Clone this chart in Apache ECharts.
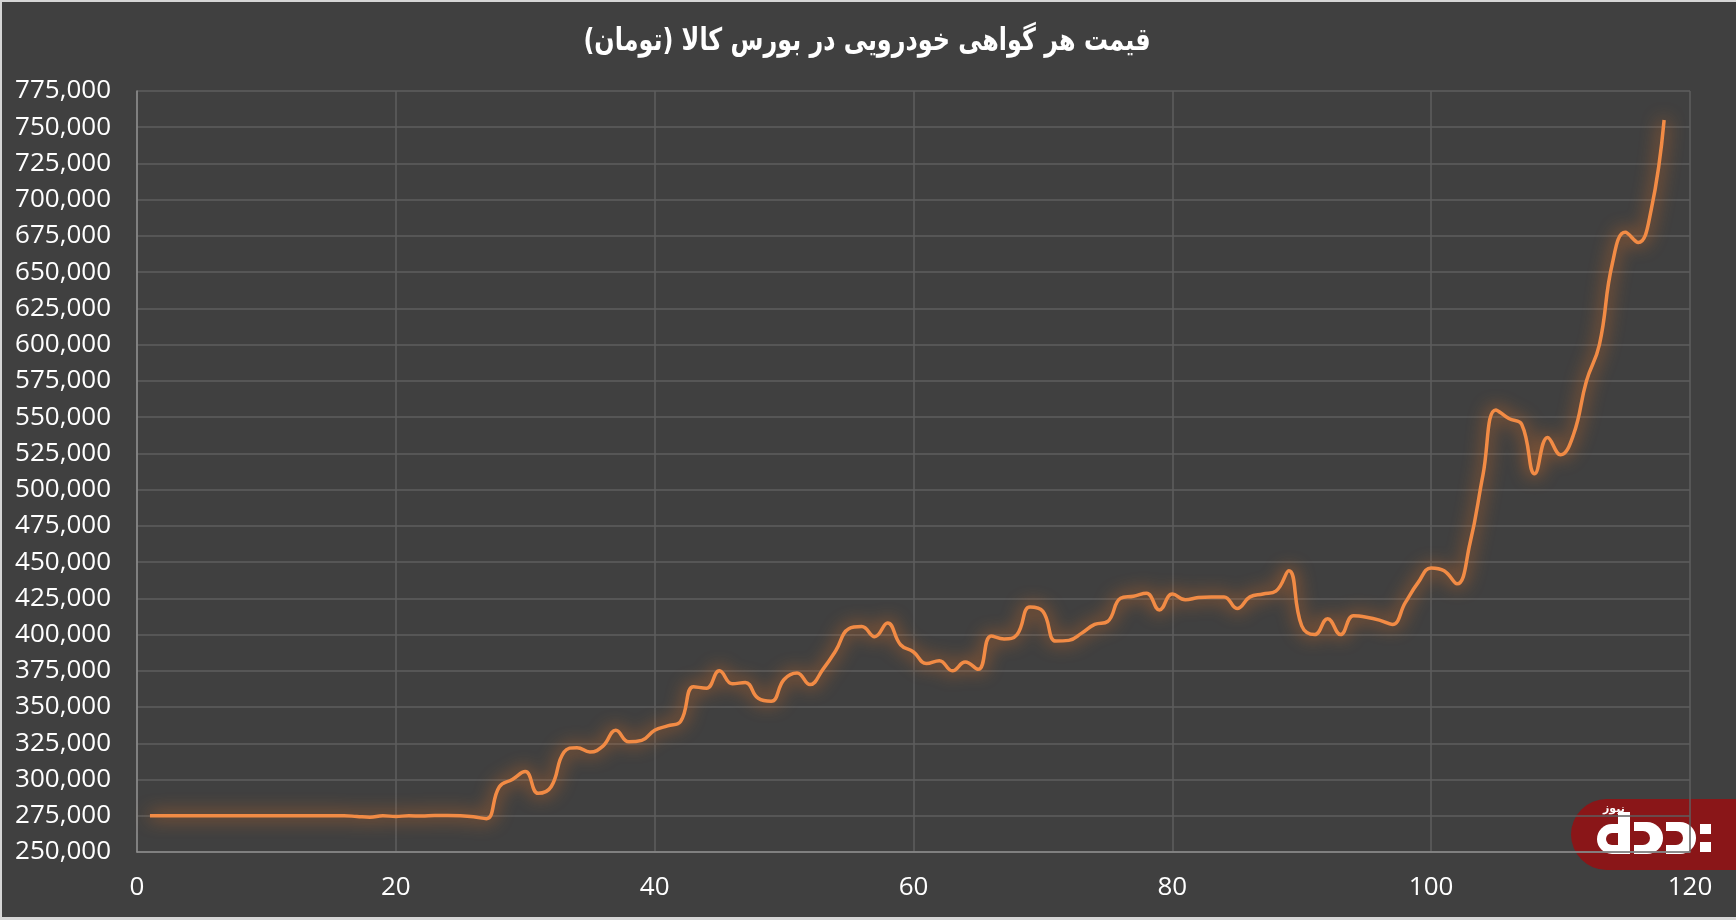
<!DOCTYPE html>
<html>
<head>
<meta charset="utf-8">
<script src="https://cdn.jsdelivr.net/npm/echarts@6/dist/echarts.min.js"></script>
<style>
  html, body { margin: 0; padding: 0; background: #d6d6d6; width: 1736px; height: 920px; overflow: hidden; }
  #chart { position: absolute; left: 2px; top: 2px; width: 1734px; height: 915px; background: #404040; }
</style>
</head>
<body>
<div id="chart"></div>
<script>
const titleText = 'قیمت هر گواهی خودرویی در بورس کالا (تومان)';
const logoText = 'نیوز';

const days = [
  1,2,3,4,5,6,7,8,9,10,11,12,13,14,15,16,17,18,19,20,
  21,22,23,24,25,26,27,28,29,30,31,32,33,34,35,36,37,38,39,40,
  41,42,43,44,45,46,47,48,49,50,51,52,53,54,55,56,57,58,59,60,
  61,62,63,64,65,66,67,68,69,70,71,72,73,74,75,76,77,78,79,80,
  81,82,83,84,85,86,87,88,89,90,91,92,93,94,95,96,97,98,99,100,
  101,102,103,104,105,106,107,108,109,110,111,112,113,114,115,116,117,118
];

const prices = [
  275000,275000,275000,275000,275000,275000,275000,275000,275000,275000,
  275000,275000,275000,275000,275000,275000,274500,274000,275000,274500,
  275000,274800,275200,275200,275000,274300,273000,295000,300000,305500,
  290500,295000,319000,322000,319000,323000,334000,326000,327000,334000,
  337000,340000,364000,363000,375000,366000,367000,356000,354000,369000,
  373500,365500,376000,389000,404000,405500,398500,408000,393000,388000,
  380000,382000,375000,381000,376000,399000,397000,400000,419000,416000,
  395500,396000,401000,407000,409000,425000,426500,428500,417000,428000,
  424000,425500,426000,426000,418000,426000,428000,430000,444000,406000,
  400000,411000,400000,413000,412000,410000,407000,422000,436000,446000,
  444000,435000,463000,510000,555000,549000,545000,511000,536000,524000,
  538000,575000,600000,656000,677500,670500,693000,755000
];

const yMin = 250000, yMax = 775000, yStep = 25000;
const xMin = 0, xMax = 120, xStep = 20;

const seriesData = days.map((d, i) => [d, prices[i]]);

const chart = echarts.init(document.getElementById('chart'), null, { renderer: 'canvas' });

const red = '#8a1618';
const logoX = 1569, logoY = 797; // relative to chart div

chart.setOption({
  backgroundColor: '#404040',
  animation: false,
  grid: {
    left: 135,
    right: 46,
    top: 89,
    bottom: 65,
    containLabel: false
  },
  xAxis: {
    type: 'value',
    min: xMin,
    max: xMax,
    interval: xStep,
    axisLine: { show: true, lineStyle: { color: '#8f8f8f', width: 1.5 } },
    axisTick: { show: false },
    splitLine: { show: true, lineStyle: { color: '#5e5e5e', width: 1.5 } },
    axisLabel: {
      color: '#ffffff',
      fontFamily: 'Open Sans',
      fontSize: 26,
      margin: 23
    }
  },
  yAxis: {
    type: 'value',
    min: yMin,
    max: yMax,
    interval: yStep,
    axisLine: { show: true, lineStyle: { color: '#8f8f8f', width: 1.5 } },
    axisTick: { show: false },
    splitLine: { show: true, lineStyle: { color: '#5e5e5e', width: 1.5 } },
    axisLabel: {
      color: '#ffffff',
      fontFamily: 'Open Sans',
      fontSize: 26,
      margin: 26,
      formatter: v => v.toLocaleString('en-US')
    }
  },
  series: [{
    type: 'line',
    data: seriesData,
    smooth: 0.45,
    showSymbol: false,
    symbol: 'none',
    lineStyle: {
      color: '#f28b45',
      width: 3.5,
      shadowColor: 'rgba(255,120,30,1)',
      shadowBlur: 18
    }
  }],
  graphic: [
    {
      type: 'text',
      x: 865, y: 40,
      scaleX: 0.77,
      z: 50,
      style: {
        text: titleText,
        fill: '#ffffff',
        fontFamily: 'DejaVu Sans',
        fontWeight: 'bold',
        fontSize: 31,
        align: 'center',
        verticalAlign: 'middle'
      }
    },
    {
      type: 'group',
      left: logoX, top: logoY,
      z: 100,
      children: [
        { type: 'rect', shape: { x: 0, y: 0, width: 170, height: 71, r: [35.5, 0, 0, 35.5] }, style: { fill: red } },
        { type: 'text', style: { text: logoText, x: 32, y: 5, fill: '#ffffff', fontSize: 11, fontFamily: 'DejaVu Sans', fontWeight: 'bold' } },
        // glyph 1: bowl + stem
        { type: 'rect', shape: { x: 26, y: 25, width: 26, height: 30, r: [15, 0, 0, 15] }, style: { fill: '#ffffff' } },
        { type: 'rect', shape: { x: 35, y: 34, width: 12, height: 12, r: [6, 0, 0, 6] }, style: { fill: red } },
        { type: 'rect', shape: { x: 47, y: 13, width: 12, height: 42 }, style: { fill: '#ffffff' } },
        // glyph 2
        { type: 'rect', shape: { x: 63, y: 23, width: 29, height: 32, r: [0, 16, 16, 0] }, style: { fill: '#ffffff' } },
        { type: 'rect', shape: { x: 63, y: 32, width: 16, height: 14, r: [0, 7, 7, 0] }, style: { fill: red } },
        // glyph 3
        { type: 'rect', shape: { x: 95, y: 23, width: 30, height: 32, r: [0, 16, 16, 0] }, style: { fill: '#ffffff' } },
        { type: 'rect', shape: { x: 95, y: 32, width: 17, height: 14, r: [0, 7, 7, 0] }, style: { fill: red } },
        // dots
        { type: 'rect', shape: { x: 129, y: 25, width: 11, height: 10 }, style: { fill: '#ffffff' } },
        { type: 'rect', shape: { x: 129, y: 43, width: 11, height: 10 }, style: { fill: '#ffffff' } }
      ]
    }
  ]
});
</script>
</body>
</html>
